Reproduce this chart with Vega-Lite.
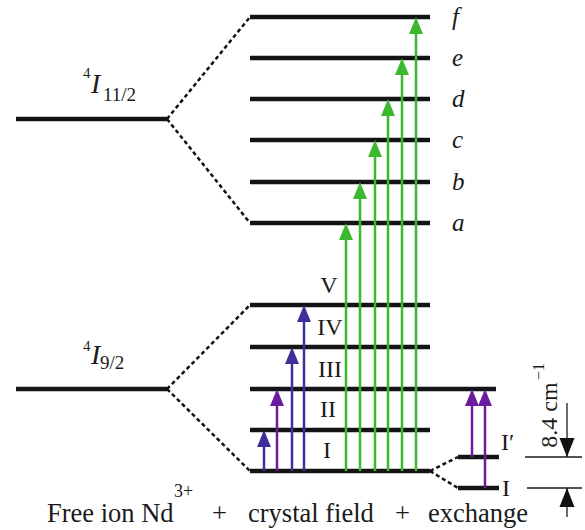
{
  "$schema": "https://vega.github.io/schema/vega-lite/v6.json",
  "width": 585,
  "height": 530,
  "padding": 0,
  "autosize": {"type": "fit", "contains": "padding"},
  "background": "white",
  "config": {"view": {"stroke": null}},
  "datasets": {
    "levels": [
      {"x": 16, "x2": 167, "y": 411}, {"x": 16, "x2": 167, "y": 141},
      {"x": 250, "x2": 430, "y": 513}, {"x": 250, "x2": 430, "y": 472}, {"x": 250, "x2": 430, "y": 431},
      {"x": 250, "x2": 430, "y": 390}, {"x": 250, "x2": 430, "y": 348}, {"x": 250, "x2": 430, "y": 307},
      {"x": 250, "x2": 430, "y": 225}, {"x": 250, "x2": 430, "y": 183}, {"x": 250, "x2": 496, "y": 141},
      {"x": 250, "x2": 430, "y": 100}, {"x": 250, "x2": 430, "y": 59},
      {"x": 458, "x2": 499, "y": 73}, {"x": 458, "x2": 499, "y": 42}
    ],
    "dashed": [
      {"x": 167, "y": 411, "x2": 250, "y2": 513}, {"x": 167, "y": 411, "x2": 250, "y2": 307},
      {"x": 167, "y": 141, "x2": 250, "y2": 225}, {"x": 167, "y": 141, "x2": 250, "y2": 59},
      {"x": 430, "y": 59, "x2": 458, "y2": 73}, {"x": 430, "y": 59, "x2": 458, "y2": 42}
    ],
    "arrows": [
      {"x": 264, "y": 59, "y2": 100, "g": "A"}, {"x": 277, "y": 59, "y2": 141, "g": "B"},
      {"x": 292, "y": 59, "y2": 183, "g": "A"}, {"x": 304, "y": 59, "y2": 225, "g": "A"},
      {"x": 346, "y": 59, "y2": 307, "g": "C"}, {"x": 360, "y": 59, "y2": 348, "g": "C"},
      {"x": 375, "y": 59, "y2": 390, "g": "C"}, {"x": 388, "y": 59, "y2": 431, "g": "C"},
      {"x": 402, "y": 59, "y2": 472, "g": "C"}, {"x": 416, "y": 59, "y2": 513, "g": "C"},
      {"x": 472, "y": 73, "y2": 141, "g": "B"}, {"x": 485, "y": 42, "y2": 141, "g": "B"}
    ],
    "dimH": [{"x": 525, "x2": 582, "y": 73}, {"x": 527, "x2": 582, "y": 42}],
    "dimV": [{"x": 567, "y": 127, "y2": 73, "dir": "down"}, {"x": 567, "y": 13, "y2": 42, "dir": "up"}],
    "bottom": [
      {"x": 47, "y": 8, "t": "Free ion Nd"}, {"x": 212, "y": 8, "t": "+"},
      {"x": 248, "y": 8, "t": "crystal field"}, {"x": 395, "y": 8, "t": "+"},
      {"x": 428, "y": 8, "t": "exchange"}
    ],
    "sup3": [{"x": 174, "y": 33, "t": "3+"}],
    "roman": [
      {"x": 327, "y": 72, "t": "I"}, {"x": 328, "y": 113, "t": "II"}, {"x": 330, "y": 153, "t": "III"},
      {"x": 330, "y": 195, "t": "IV"}, {"x": 329, "y": 237, "t": "V"}
    ],
    "exlab": [{"x": 501, "y": 80, "t": "I′"}, {"x": 502, "y": 34, "t": "I"}],
    "letters": [
      {"x": 452, "y": 513, "t": "f"}, {"x": 452, "y": 472, "t": "e"}, {"x": 452, "y": 431, "t": "d"},
      {"x": 452, "y": 390, "t": "c"}, {"x": 452, "y": 348, "t": "b"}, {"x": 452, "y": 307, "t": "a"}
    ],
    "termSup": [{"x": 83, "y": 452, "t": "4"}, {"x": 83, "y": 179, "t": "4"}],
    "termI": [{"x": 91, "y": 437, "t": "I"}, {"x": 91, "y": 166, "t": "I"}],
    "termSub": [{"x": 103, "y": 429, "t": "11/2"}, {"x": 100, "y": 161, "t": "9/2"}],
    "rot": [{"x": 557, "y": 115, "t": "8.4 cm"}],
    "rotSup": [{"x": 544, "y": 150, "t": "−1"}]
  },
  "encoding": {
    "x": {"field": "x", "type": "quantitative", "scale": {"domain": [0, 585], "nice": false, "zero": false}, "axis": null},
    "y": {"field": "y", "type": "quantitative", "scale": {"domain": [0, 530], "nice": false, "zero": false}, "axis": null}
  },
  "layer": [
    {
      "data": {"name": "dashed"},
      "mark": {"type": "rule", "strokeWidth": 2.5, "strokeDash": [4, 3], "color": "#111111"},
      "encoding": {"x2": {"field": "x2"}, "y2": {"field": "y2"}}
    },
    {
      "data": {"name": "levels"},
      "mark": {"type": "rule", "strokeWidth": 4.5, "color": "#141414"},
      "encoding": {"x2": {"field": "x2"}}
    },
    {
      "data": {"name": "arrows"},
      "mark": {"type": "rule", "strokeWidth": 2.5, "y2Offset": 6},
      "encoding": {
        "y2": {"field": "y2"},
        "color": {"field": "g", "type": "nominal", "scale": {"domain": ["A", "B", "C"], "range": ["#3f2f9c", "#6a1c9e", "#3cb82e"]}, "legend": null}
      }
    },
    {
      "data": {"name": "arrows"},
      "mark": {"type": "point", "filled": true, "opacity": 1, "strokeWidth": 0, "size": 289, "shape": "M0,0L0.82,2L-0.82,2Z"},
      "encoding": {
        "y": {"field": "y2", "type": "quantitative"},
        "color": {"field": "g", "type": "nominal", "scale": {"domain": ["A", "B", "C"], "range": ["#3f2f9c", "#6a1c9e", "#3cb82e"]}, "legend": null}
      }
    },
    {
      "data": {"name": "dimH"},
      "mark": {"type": "rule", "strokeWidth": 1.3, "color": "#1a1a1a"},
      "encoding": {"x2": {"field": "x2"}}
    },
    {
      "data": {"name": "dimV"},
      "mark": {"type": "rule", "strokeWidth": 1.3, "color": "#1a1a1a"},
      "encoding": {"y2": {"field": "y2"}}
    },
    {
      "data": {"name": "dimV"},
      "mark": {"type": "point", "filled": true, "opacity": 1, "strokeWidth": 0, "size": 361, "color": "#111111"},
      "encoding": {
        "y": {"field": "y2", "type": "quantitative"},
        "shape": {"field": "dir", "type": "nominal", "scale": {"domain": ["up", "down"], "range": ["M0,0L0.79,2L-0.79,2Z", "M0,0L0.79,-2L-0.79,-2Z"]}, "legend": null}
      }
    },
    {
      "data": {"name": "bottom"},
      "mark": {"type": "text", "font": "Liberation Serif", "fontSize": 26.5, "align": "left", "baseline": "alphabetic", "color": "#1a1a1a"},
      "encoding": {"text": {"field": "t"}}
    },
    {
      "data": {"name": "sup3"},
      "mark": {"type": "text", "font": "Liberation Serif", "fontSize": 18, "align": "left", "baseline": "alphabetic", "color": "#1a1a1a"},
      "encoding": {"text": {"field": "t"}}
    },
    {
      "data": {"name": "roman"},
      "mark": {"type": "text", "font": "Liberation Serif", "fontSize": 24, "align": "center", "baseline": "alphabetic", "color": "#1a1a1a"},
      "encoding": {"text": {"field": "t"}}
    },
    {
      "data": {"name": "exlab"},
      "mark": {"type": "text", "font": "Liberation Serif", "fontSize": 24, "align": "left", "baseline": "alphabetic", "color": "#1a1a1a"},
      "encoding": {"text": {"field": "t"}}
    },
    {
      "data": {"name": "letters"},
      "mark": {"type": "text", "font": "Liberation Serif", "fontSize": 25, "fontStyle": "italic", "align": "left", "baseline": "alphabetic", "dy": 8, "color": "#1a1a1a"},
      "encoding": {"text": {"field": "t"}}
    },
    {
      "data": {"name": "termSup"},
      "mark": {"type": "text", "font": "Liberation Serif", "fontSize": 15, "align": "left", "baseline": "alphabetic", "color": "#1a1a1a"},
      "encoding": {"text": {"field": "t"}}
    },
    {
      "data": {"name": "termI"},
      "mark": {"type": "text", "font": "Liberation Serif", "fontSize": 28, "fontStyle": "italic", "align": "left", "baseline": "alphabetic", "color": "#1a1a1a"},
      "encoding": {"text": {"field": "t"}}
    },
    {
      "data": {"name": "termSub"},
      "mark": {"type": "text", "font": "Liberation Serif", "fontSize": 19, "align": "left", "baseline": "alphabetic", "color": "#1a1a1a"},
      "encoding": {"text": {"field": "t"}}
    },
    {
      "data": {"name": "rot"},
      "mark": {"type": "text", "font": "Liberation Serif", "fontSize": 24, "angle": 270, "align": "center", "baseline": "alphabetic", "color": "#1a1a1a"},
      "encoding": {"text": {"field": "t"}}
    },
    {
      "data": {"name": "rotSup"},
      "mark": {"type": "text", "font": "Liberation Serif", "fontSize": 16, "angle": 270, "align": "left", "baseline": "alphabetic", "color": "#1a1a1a"},
      "encoding": {"text": {"field": "t"}}
    }
  ]
}
